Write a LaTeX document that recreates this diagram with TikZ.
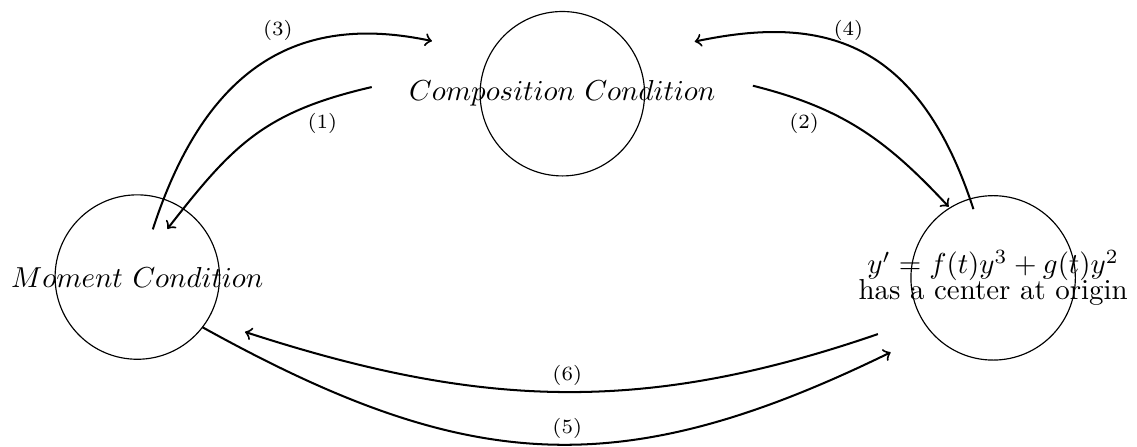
\documentclass[tikz,border=0pt]{standalone}
\usetikzlibrary{calc}
\begin{document}
\begin{tikzpicture}[
  cond/.style = {draw, circle, minimum size=2cm, inner sep=0pt},
  condtxt/.style = {align=center},
  link/.style = {->, line width=0.7pt},
  linklbl/.style = {font=\scriptsize}
]
  \useasboundingbox (0,0) rectangle (13.83,5.43);
  % circles
  \node[cond] (mom) at (1.67,2.06) {};
  \node[cond] (comp) at (6.84,4.29) {};
  \node[cond] (ctr) at (12.08,2.05) {};
  % texts
  \node[condtxt] (momtxt) at (mom) {$Moment\ Condition$};
  \node[condtxt] (comptxt) at (comp) {$Composition\ Condition$};
  \node[condtxt] (ctrtxt) at (ctr) {$y' = f(t)y^3 + g(t)y^2$\\[-3pt] has a center at origin};
  % upper arrows
  \draw[link] ($(mom)+(72:0.61)$) .. controls +(72:2.18) and +(168:1.58) .. ($(comp)+(158:1.71)$);
  \draw[link] ($(comp)+(178:2.32)$) .. controls +(193:1.35) and +(52:1.29) .. ($(mom)+(58:0.69)$);
  \draw[link] ($(ctr)+(106:0.87)$) .. controls +(108:2.18) and +(12:1.58) .. ($(comp)+(21.5:1.73)$);
  \draw[link] ($(comp)+(2.4:2.32)$) .. controls +(-14:1.13) and +(133:1.11) .. ($(ctr)+(122:1.02)$);
  % lower arrows
  \draw[link] ($(ctr)+(206:1.56)$) to[out=199, in=-18] ($(mom)+(-27:1.47)$);
  \draw[link] ($(mom)+(-37.6:1)$) to[out=-29, in=206, looseness=1.12] ($(ctr)+(216:1.54)$);
  % labels
  \node[linklbl] (l1) at (3.92,3.93) {(1)};
  \node[linklbl] (l2) at (9.78,3.93) {(2)};
  \node[linklbl] (l3) at (3.38,5.06) {(3)};
  \node[linklbl] (l4) at (10.32,5.06) {(4)};
  \node[linklbl] (l5) at (6.90,0.22) {(5)};
  \node[linklbl] (l6) at (6.90,0.86) {(6)};
\end{tikzpicture}
\end{document}
